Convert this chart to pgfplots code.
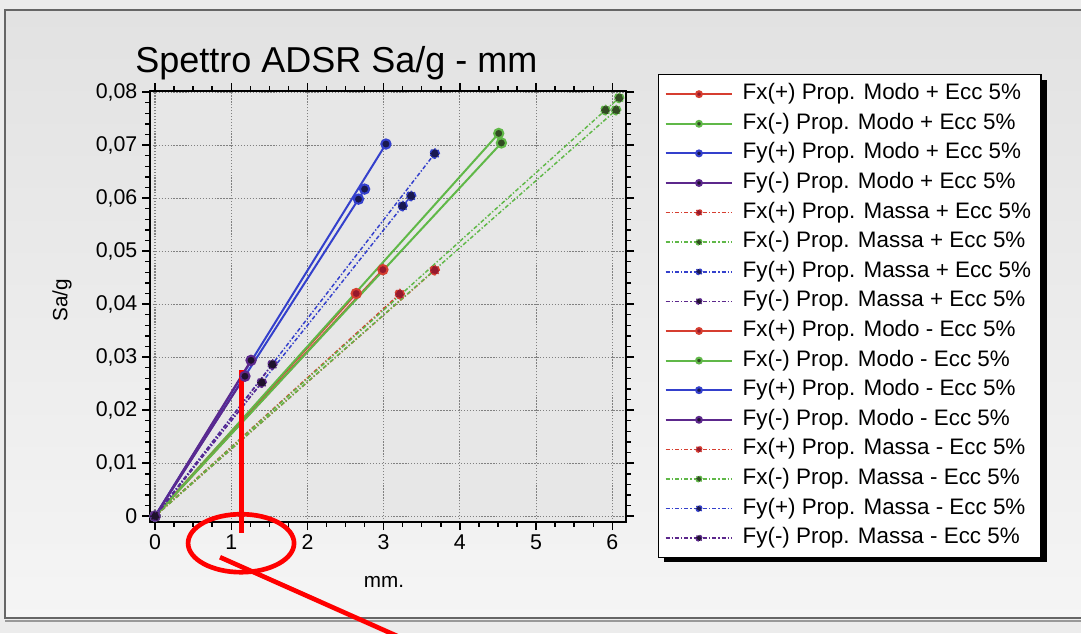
\documentclass[border=0pt]{standalone}
\usepackage{fontspec}
\setmainfont{Liberation Sans}
\usepackage{pgfplots}
\pgfplotsset{compat=1.18}

\definecolor{cred}{RGB}{214,62,48}
\definecolor{cgreen}{RGB}{96,184,72}
\definecolor{cblue}{RGB}{52,64,204}
\definecolor{cpurple}{RGB}{92,40,140}
\definecolor{mred}{RGB}{150,25,45}
\definecolor{mgreen}{RGB}{50,75,35}
\definecolor{mblue}{RGB}{25,25,80}
\definecolor{mpurple}{RGB}{30,18,45}
\definecolor{panelbg}{RGB}{226,226,226}
\definecolor{outerbg}{RGB}{236,236,236}
\definecolor{plotbg}{RGB}{231,231,231}

\pgfplotsset{
  modo/.style={line width=1.5pt, mark=*, mark size=3.5pt,
    mark options={solid, line width=1.3pt, draw=black}},
  massa/.style={line width=1.1pt, dash pattern=on 3pt off 1.5pt on 1pt off 1.5pt,
    mark=*, mark size=3.5pt, mark options={solid, line width=1.3pt, draw=black}},
}

\begin{document}
\begin{tikzpicture}
% background panel, pixel units with origin at top left
\begin{scope}[x=0.75pt,y=-0.75pt]
\fill[outerbg] (0,0) rectangle (1081,633);
\shade[top color=panelbg, bottom color=white!96!black] (5,10) rectangle (1081,618);
\draw[black!60, line width=0.8pt] (1081,10) -- (5,10) -- (5,618) -- (1081,618);
\draw[black!40, line width=2pt] (5,621) -- (1081,621);
\node[anchor=base west, font=\fontsize{27}{30}\selectfont, inner sep=0pt] at (135,72) {Spettro ADSR Sa/g - mm};
% legend shadow
\fill[black] (664,80) rectangle (1047,562);
\end{scope}

\begin{axis}[
  scale only axis,
  width=357pt, height=323.25pt,
  at={(112.5pt,-391.5pt)}, anchor=south west,
  xmin=-0.066, xmax=6.18,
  ymin=-0.0011, ymax=0.0802,
  scaled y ticks=false,
  axis background/.style={fill=plotbg},
  axis line style={line width=2pt, black},
  xtick={0,1,2,3,4,5,6},
  xticklabels={0,1,2,3,4,5,6},
  ytick={0,0.01,0.02,0.03,0.04,0.05,0.06,0.07,0.08},
  yticklabels={0,{0,01},{0,02},{0,03},{0,04},{0,05},{0,06},{0,07},{0,08}},
  minor x tick num=3,
  minor y tick num=4,
  tick align=outside,
  major tick length=6pt,
  minor tick length=3.5pt,
  every tick/.style={black, line width=1.1pt},
  tick label style={font=\fontsize{16}{18}\selectfont},
  grid=major,
  major grid style={black!50, line width=0.8pt, dash pattern=on 1pt off 1.2pt},
  xlabel={mm.},
  ylabel={Sa/g},
  label style={font=\fontsize{15.5}{17}\selectfont},
  xlabel style={at={(axis description cs:0.4916,-0.139)}, anchor=center},
  ylabel style={at={(axis description cs:-0.185,0.515)}, anchor=center, rotate=0},
  clip=false,
  legend image code/.code={\draw[mark repeat=2, mark phase=2, #1, mark size=2.2pt]
    plot coordinates {(0pt,0pt) (25pt,0pt) (50pt,0pt)}; \path (54pt,0pt);},
  legend style={at={(axis description cs:1.0672,1.0394)}, anchor=north west,
    draw=black, line width=1pt, fill=white,
    font=\fontsize{16.8}{20}\selectfont,
    inner xsep=4.5pt, inner ysep=3.5pt, row sep=0pt,
    nodes={inner xsep=3pt, inner ysep=3pt, text height=12.2pt, text depth=4pt}},
  legend cell align=left,
]
% Modo + Ecc
\addplot[modo, cred, mark options={fill=mred}] coordinates {(0,0) (2.64,0.0420)};
\addlegendentry{Fx(+) Prop. Modo + Ecc 5\%}
\addplot[modo, cgreen, mark options={fill=mgreen}] coordinates {(0,0) (4.51,0.0722)};
\addlegendentry{Fx(-) Prop. Modo + Ecc 5\%}
\addplot[modo, cblue, mark options={fill=mblue}] coordinates {(0,0) (3.03,0.0702)};
\addlegendentry{Fy(+) Prop. Modo + Ecc 5\%}
\addplot[modo, cpurple, mark options={fill=mpurple}] coordinates {(0,0) (1.26,0.0294)};
\addlegendentry{Fy(-) Prop. Modo + Ecc 5\%}
% Massa + Ecc
\addplot[massa, cred, mark options={fill=mred}] coordinates {(0,0) (3.21,0.0419)};
\addlegendentry{Fx(+) Prop. Massa + Ecc 5\%}
\addplot[massa, cgreen, mark options={fill=mgreen}] coordinates {(0,0) (5.91,0.0766) (6.09,0.0789)};
\addlegendentry{Fx(-) Prop. Massa + Ecc 5\%}
\addplot[massa, cblue, mark options={fill=mblue}] coordinates {(0,0) (3.67,0.0684)};
\addlegendentry{Fy(+) Prop. Massa + Ecc 5\%}
\addplot[massa, cpurple, mark options={fill=mpurple}] coordinates {(0,0) (1.54,0.0286)};
\addlegendentry{Fy(-) Prop. Massa + Ecc 5\%}
% Modo - Ecc
\addplot[modo, cred, mark options={fill=mred}] coordinates {(0,0) (2.99,0.0465)};
\addlegendentry{Fx(+) Prop. Modo - Ecc 5\%}
\addplot[modo, cgreen, mark options={fill=mgreen}] coordinates {(0,0) (4.545,0.0704)};
\addlegendentry{Fx(-) Prop. Modo - Ecc 5\%}
\addplot[modo, cblue, mark options={fill=mblue}] coordinates {(0,0) (2.67,0.0598) (2.75,0.0617)};
\addlegendentry{Fy(+) Prop. Modo - Ecc 5\%}
\addplot[modo, cpurple, mark options={fill=mpurple}] coordinates {(0,0) (1.18,0.0264)};
\addlegendentry{Fy(-) Prop. Modo - Ecc 5\%}
% Massa - Ecc
\addplot[massa, cred, mark options={fill=mred}] coordinates {(0,0) (3.67,0.0464)};
\addlegendentry{Fx(+) Prop. Massa - Ecc 5\%}
\addplot[massa, cgreen, mark options={fill=mgreen}] coordinates {(0,0) (6.05,0.0766)};
\addlegendentry{Fx(-) Prop. Massa - Ecc 5\%}
\addplot[massa, cblue, mark options={fill=mblue}] coordinates {(0,0) (3.25,0.0585) (3.36,0.0604)};
\addlegendentry{Fy(+) Prop. Massa - Ecc 5\%}
\addplot[massa, cpurple, mark options={fill=mpurple}] coordinates {(0,0) (1.40,0.0252)};
\addlegendentry{Fy(-) Prop. Massa - Ecc 5\%}

% red hand-drawn annotation
\draw[red, line width=3.5pt] (axis cs:1.135,0.02755) -- (axis cs:1.135,-0.0032);
\draw[red, line width=3.5pt] (axis cs:1.129,-0.0051) ellipse [x radius=39.75pt, y radius=21.75pt];
\draw[red, line width=3.5pt] (axis cs:0.853,-0.00774) -- (axis cs:3.478,-0.02453);
\end{axis}

\begin{scope}[x=0.75pt,y=-0.75pt]
\pgfresetboundingbox
\useasboundingbox (0,0) rectangle (1081,633);
\end{scope}
\end{tikzpicture}
\end{document}
